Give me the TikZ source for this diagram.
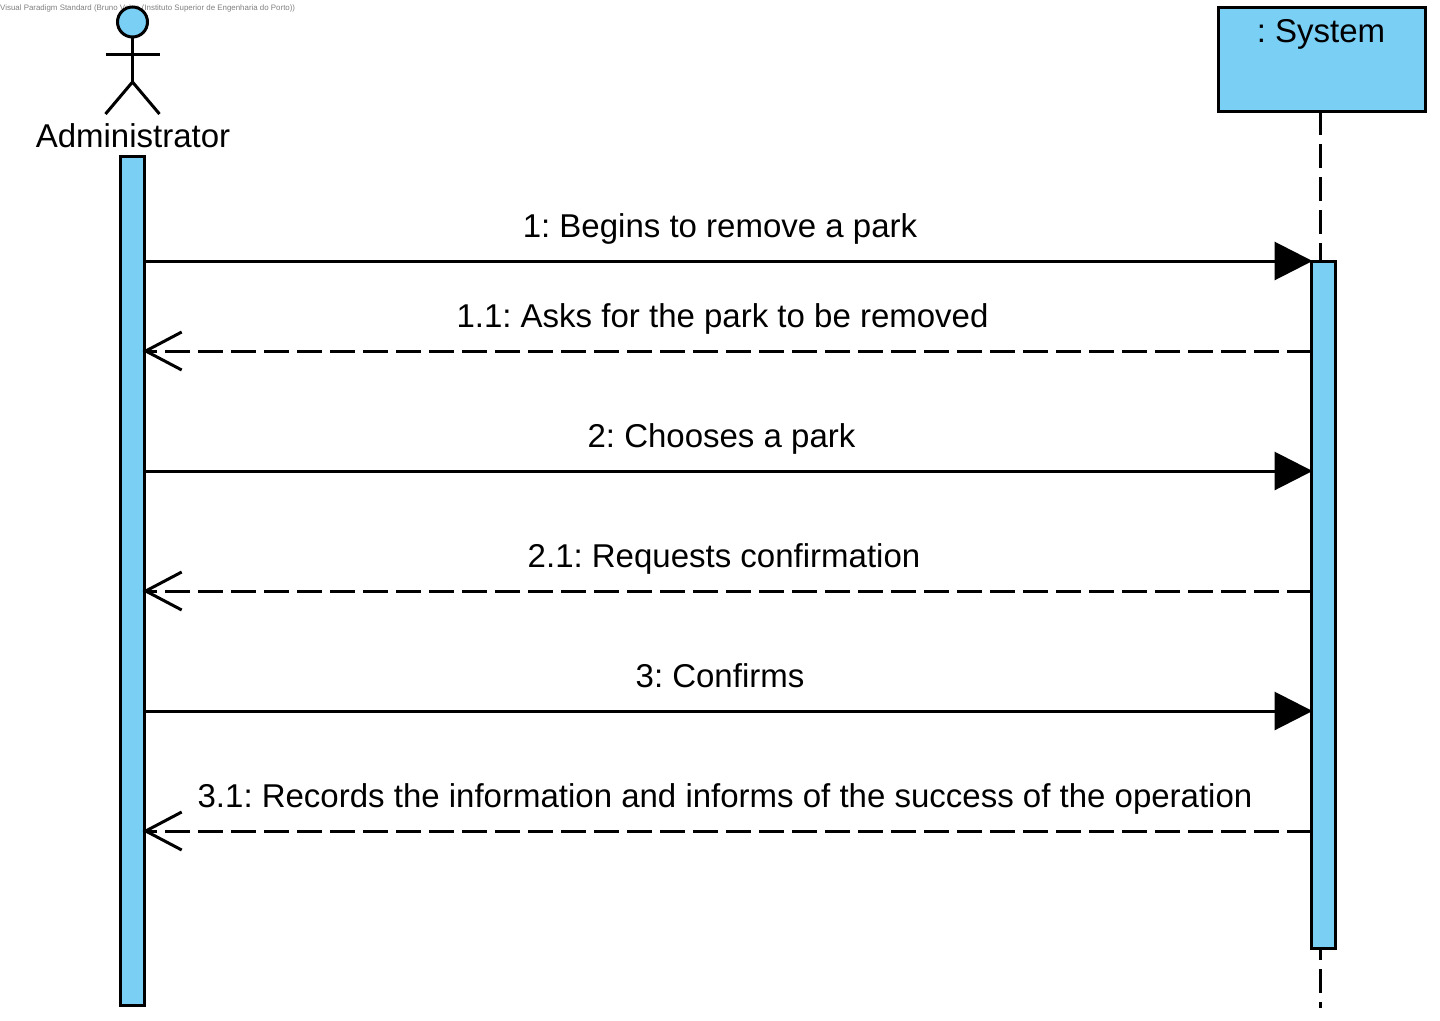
\documentclass[tikz,border=0pt]{standalone}
\usepackage{fontspec}
\setmainfont{Liberation Sans}
\frenchspacing
\usetikzlibrary{arrows.meta}
\definecolor{vpblue}{HTML}{7ACFF5}
\tikzset{
    bar/.style={draw=black,line width=3pt,fill=vpblue,minimum width=24pt,inner sep=0pt,outer sep=0pt,anchor=north west},
    lifeline/.style={line width=3pt,dash pattern=on 24pt off 9pt},
    syncmsg/.style={line width=3pt,shorten >=-1pt,-{Triangle[length=38pt,width=38pt]}},
    replymsg/.style={line width=3pt,shorten >=-2pt,dash pattern=on 25pt off 8pt,-{Straight Barb[length=36pt,width=38pt,line width=3pt]}},
    msglabel/.style={font=\fontsize{33}{33}\selectfont,anchor=base,inner sep=0pt},
    limb/.style={line width=3pt}
}
\begin{document}
\begin{tikzpicture}[x=1pt,y=-1pt]
        \useasboundingbox (0,0) rectangle (1440,1020);

        \coordinate (msgone) at (0,261);
        \coordinate (msgoneone) at (0,351);
        \coordinate (msgtwo) at (0,471);
        \coordinate (msgtwoone) at (0,591);
        \coordinate (msgthree) at (0,711);
        \coordinate (msgthreeone) at (0,831);
        \coordinate (lifeend) at (1320,1008);

        \node[text=gray,font=\fontsize{7.9}{9}\selectfont,anchor=base west,inner sep=0pt] (watermark) at (0,10) {Visual Paradigm Standard (Bruno Veiga (Instituto Superior de Engenharia do Porto))};

        % actor
        \node[circle,draw=black,line width=3pt,fill=vpblue,minimum size=30pt,inner sep=0pt,outer sep=0pt] (head) at (132.5,22) {};
        \coordinate (hip) at (132.5,82);
        \coordinate (armleft) at (105.5,54);
        \coordinate (armright) at (159.5,54);
        \coordinate (footleft) at (105.5,114);
        \coordinate (footright) at (159.5,114);
        \draw[limb] (head.south) -- (hip);
        \draw[limb] (armleft) -- (armright);
        \draw[limb] (footleft) -- (hip) -- (footright);
        \node[msglabel] (admin) at (133,147) {Administrator};
        \node[bar,minimum height=849pt] (adminbar) at (120.5,156.5) {};

        % system
        \node[bar,minimum width=207pt,minimum height=104pt] (sysbox) at (1218.5,7) {};
        \node[msglabel] (sysname) at (1321,42) {: System};
        \draw[lifeline] (sysbox.south -| lifeend) -- (lifeend);
        \node[bar,minimum height=687pt] (sysbar) at (1311.5,261.5) {};

        % messages
        \draw[syncmsg] (adminbar.east |- msgone) -- (sysbar.west |- msgone);
        \draw[replymsg] (sysbar.west |- msgoneone) -- (adminbar.east |- msgoneone);
        \draw[syncmsg] (adminbar.east |- msgtwo) -- (sysbar.west |- msgtwo);
        \draw[replymsg] (sysbar.west |- msgtwoone) -- (adminbar.east |- msgtwoone);
        \draw[syncmsg] (adminbar.east |- msgthree) -- (sysbar.west |- msgthree);
        \draw[replymsg] (sysbar.west |- msgthreeone) -- (adminbar.east |- msgthreeone);

        \node[msglabel] (labelone) at (720,237) {1: Begins to remove a park};
        \node[msglabel] (labeloneone) at (722.5,327) {1.1: Asks for the park to be removed};
        \node[msglabel] (labeltwo) at (721.5,447) {2: Chooses a park};
        \node[msglabel] (labeltwoone) at (724,567) {2.1: Requests confirmation};
        \node[msglabel] (labelthree) at (720,687) {3: Confirms};
        \node[msglabel] (labelthreeone) at (725,807) {3.1: Records the information and informs of the success of the operation};
\end{tikzpicture}
\end{document}
